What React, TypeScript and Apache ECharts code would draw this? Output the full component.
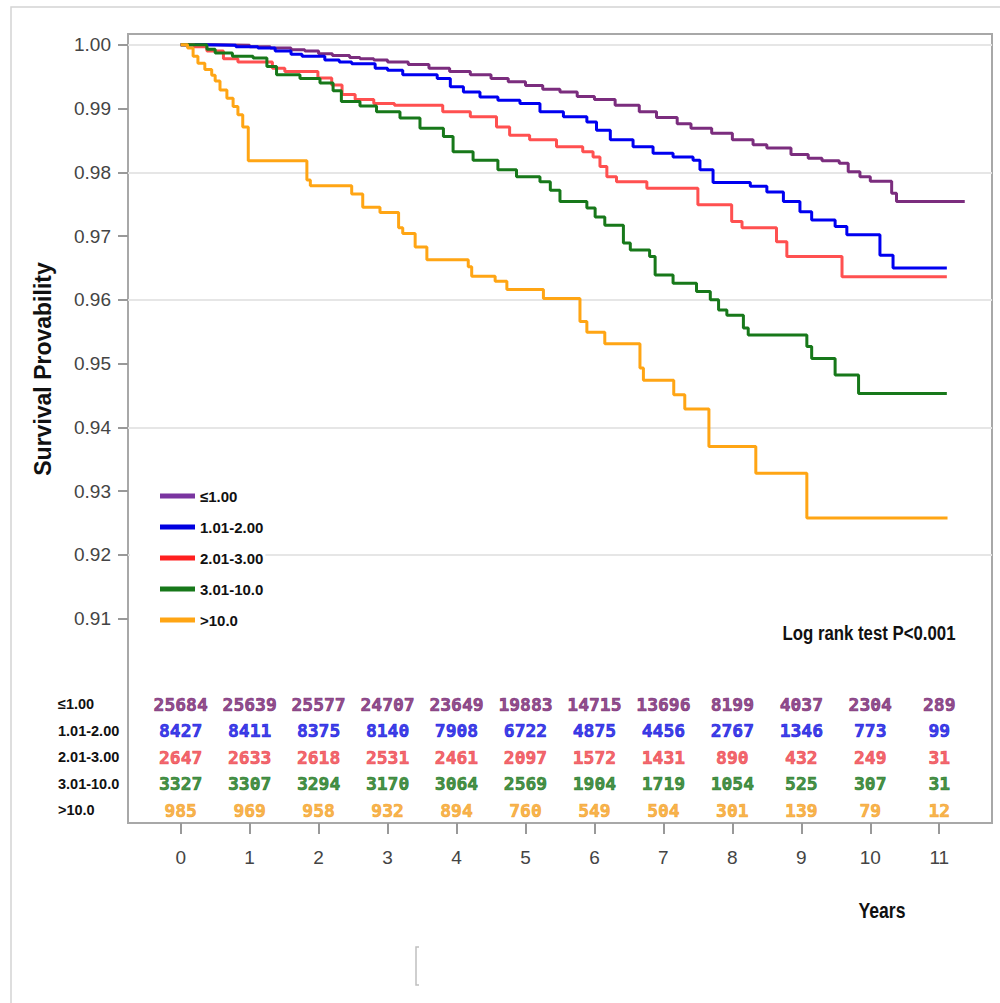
import React, { useEffect, useRef } from 'react';
import * as echarts from 'echarts';

const groupNames = ['≤1.00', '1.01-2.00', '2.01-3.00', '3.01-10.0', '>10.0'];
const lineColors = ['#7B2D7E', '#0000F0', '#FF5050', '#17781A', '#FFA514'];
const legendColors = ['#7A35A0', '#0000E0', '#FF1F1F', '#17781A', '#FFA514'];
const riskColors = ['#74206F', '#0C0CE0', '#EE3F48', '#167416', '#F5A020'];

// Kaplan-Meier step points (time in years, survival probability from that time on)
const timeLe1 = [0, 0.5, 1.0, 1.3, 1.6, 1.8, 2.0, 2.2, 2.45, 2.6, 2.8, 3.0, 3.3, 3.6, 3.9, 4.2, 4.5, 4.75, 5.0, 5.25, 5.5, 5.75, 6.0, 6.3, 6.65, 6.9, 7.2, 7.4, 7.7, 8.0, 8.3, 8.5, 8.85, 9.1, 9.3, 9.55, 9.68, 9.85, 10.0, 10.31, 10.38, 11.37];
const survLe1 = [1, 0.9999, 0.9997, 0.9995, 0.9992, 0.999, 0.9986, 0.9983, 0.998, 0.9978, 0.9976, 0.9973, 0.9969, 0.9963, 0.9958, 0.9953, 0.9947, 0.9942, 0.9936, 0.993, 0.9926, 0.9919, 0.9914, 0.9905, 0.9895, 0.9886, 0.9876, 0.9869, 0.9861, 0.9851, 0.9843, 0.9838, 0.9828, 0.9822, 0.9818, 0.9814, 0.9801, 0.9793, 0.9786, 0.9767, 0.9754, 0.9754];

const time1to2 = [0, 0.35, 0.8, 1.12, 1.37, 1.6, 1.76, 2.09, 2.3, 2.48, 2.82, 3.0, 3.22, 3.72, 3.91, 4.1, 4.34, 4.6, 4.92, 5.21, 5.55, 5.89, 6.03, 6.23, 6.56, 6.85, 7.14, 7.43, 7.53, 7.72, 8.26, 8.5, 8.74, 8.98, 9.15, 9.49, 9.66, 10.14, 10.33, 11.11];
const surv1to2 = [1, 0.9999, 0.9997, 0.9995, 0.999, 0.9985, 0.9982, 0.9976, 0.9973, 0.997, 0.9963, 0.996, 0.9953, 0.9947, 0.9934, 0.9926, 0.9918, 0.9913, 0.9908, 0.9895, 0.9887, 0.9879, 0.9866, 0.9851, 0.984, 0.983, 0.9824, 0.9819, 0.9804, 0.9784, 0.9778, 0.9769, 0.9754, 0.9738, 0.9725, 0.9715, 0.9702, 0.967, 0.965, 0.965];

const time2to3 = [0, 0.2, 0.38, 0.62, 0.83, 1.33, 1.51, 1.99, 2.19, 2.34, 2.53, 2.8, 3.1, 3.8, 4.2, 4.58, 4.77, 5.06, 5.45, 5.83, 5.98, 6.08, 6.18, 6.32, 6.76, 7.5, 7.99, 8.14, 8.64, 8.79, 9.59, 11.11];
const surv2to3 = [1, 0.9997, 0.999, 0.9978, 0.9973, 0.9963, 0.9958, 0.9948, 0.9937, 0.9922, 0.9914, 0.9908, 0.9905, 0.9895, 0.9887, 0.9871, 0.9858, 0.9851, 0.984, 0.9832, 0.9824, 0.9809, 0.9793, 0.9785, 0.9775, 0.9749, 0.9723, 0.9713, 0.9691, 0.9668, 0.9636, 0.9636];

const time3to10 = [0, 0.38, 0.5, 0.75, 1.05, 1.25, 1.39, 1.73, 2.02, 2.21, 2.33, 2.6, 2.84, 3.18, 3.47, 3.81, 3.95, 4.24, 4.6, 4.87, 5.21, 5.36, 5.5, 5.89, 6.01, 6.15, 6.42, 6.52, 6.8, 6.88, 7.14, 7.48, 7.68, 7.8, 7.92, 8.16, 8.23, 9.08, 9.15, 9.49, 9.83, 11.11];
const surv3to10 = [1, 0.9993, 0.9987, 0.9982, 0.9979, 0.9966, 0.9953, 0.9947, 0.994, 0.9928, 0.9911, 0.9904, 0.9895, 0.9885, 0.9869, 0.9856, 0.9832, 0.9819, 0.9804, 0.9793, 0.9785, 0.9772, 0.9754, 0.9744, 0.973, 0.9717, 0.9689, 0.9678, 0.9668, 0.9639, 0.9626, 0.9613, 0.96, 0.9584, 0.9576, 0.9556, 0.9545, 0.9527, 0.9508, 0.9482, 0.9453, 0.9453];

const timeGt10 = [0, 0.1, 0.18, 0.25, 0.35, 0.45, 0.5, 0.57, 0.67, 0.76, 0.83, 0.9, 0.98, 1.83, 1.88, 2.48, 2.64, 2.89, 3.16, 3.22, 3.4, 3.57, 4.17, 4.22, 4.56, 4.73, 5.26, 5.79, 5.89, 6.15, 6.66, 6.71, 7.15, 7.31, 7.66, 8.34, 9.08, 11.12];
const survGt10 = [1, 0.9995, 0.9982, 0.9971, 0.9961, 0.9952, 0.9943, 0.9929, 0.9916, 0.9903, 0.989, 0.9871, 0.9818, 0.9788, 0.9779, 0.9766, 0.9745, 0.9737, 0.9713, 0.9704, 0.9683, 0.9663, 0.9652, 0.9637, 0.9629, 0.9616, 0.9602, 0.9566, 0.9549, 0.9531, 0.9493, 0.9474, 0.9451, 0.9429, 0.937, 0.9328, 0.9258, 0.9258];

// Numbers at risk
const riskYears = [0, 1, 2, 3, 4, 5, 6, 7, 8, 9, 10, 11];
const riskLe1 = [25684, 25639, 25577, 24707, 23649, 19883, 14715, 13696, 8199, 4037, 2304, 289];
const risk1to2 = [8427, 8411, 8375, 8140, 7908, 6722, 4875, 4456, 2767, 1346, 773, 99];
const risk2to3 = [2647, 2633, 2618, 2531, 2461, 2097, 1572, 1431, 890, 432, 249, 31];
const risk3to10 = [3327, 3307, 3294, 3170, 3064, 2569, 1904, 1719, 1054, 525, 307, 31];
const riskGt10 = [985, 969, 958, 932, 894, 760, 549, 504, 301, 139, 79, 12];

const yTickValues = [1.0, 0.99, 0.98, 0.97, 0.96, 0.95, 0.94, 0.93, 0.92, 0.91];
const yGridValues = [1.0, 0.98, 0.96, 0.94, 0.92];
const xTickValues = [0, 1, 2, 3, 4, 5, 6, 7, 8, 9, 10, 11];

const SANS = '"Liberation Sans", Arial, sans-serif';
const MONO = '"DejaVu Sans Mono", "Liberation Mono", monospace';

export default function App() {
  const ref = useRef<HTMLDivElement>(null);
  useEffect(() => {
    if (!ref.current) return;
    const chart = echarts.init(ref.current, null, { renderer: 'svg' });
    const times = [timeLe1, time1to2, time2to3, time3to10, timeGt10];
    const survs = [survLe1, surv1to2, surv2to3, surv3to10, survGt10];
    const risks = [riskLe1, risk1to2, risk2to3, risk3to10, riskGt10];
    const xMin = -0.764;
    const xMax = 11.765;

    const curveSeries = groupNames.map((name, g) => ({
      name,
      type: 'line',
      step: 'end',
      xAxisIndex: 0,
      yAxisIndex: 0,
      showSymbol: false,
      symbol: 'none',
      z: 3,
      lineStyle: { color: lineColors[g], width: 3 },
      itemStyle: { color: legendColors[g] },
      data: times[g].map((t, i) => [t, survs[g][i]]),
    }));

    const riskSeries = groupNames.map((name, g) => ({
      name: 'risk ' + name,
      type: 'scatter',
      xAxisIndex: 1,
      yAxisIndex: 1,
      symbolSize: 1,
      itemStyle: { color: 'transparent' },
      label: {
        show: true,
        position: 'inside',
        formatter: (p: any) => String(risks[g][p.dataIndex]),
        color: riskColors[g],
        textBorderWidth: 0.7,
        textBorderColor: riskColors[g],
        fontFamily: MONO,
        fontWeight: 'bold',
        fontSize: 18,
      },
      data: riskYears.map((yr) => [yr, name]),
    }));

    chart.setOption({
      animation: false,
      backgroundColor: '#ffffff',
      grid: [
        { left: 128, top: 34, width: 864, height: 789, show: true, borderColor: '#a8a8a8', borderWidth: 2, backgroundColor: 'transparent' },
        { left: 128, top: 690.75, width: 864, height: 132.5, show: false },
      ],
      xAxis: [
        {
          type: 'value', gridIndex: 0, min: xMin, max: xMax,
          axisLine: { show: false, onZero: false },
          splitLine: { show: false },
          axisTick: { show: true, customValues: xTickValues, length: 11, lineStyle: { color: '#999', width: 2 } },
          axisLabel: { customValues: xTickValues, margin: 25, fontSize: 19, fontFamily: SANS, color: '#444' },
        },
        {
          type: 'value', gridIndex: 1, min: xMin, max: xMax, show: false,
          axisLine: { onZero: false },
        },
      ],
      yAxis: [
        {
          type: 'value', gridIndex: 0, min: 0.87797, max: 1.00168,
          axisLine: { show: false, onZero: false },
          splitLine: { show: false },
          axisTick: { show: true, customValues: yTickValues, length: 10, lineStyle: { color: '#999', width: 2 } },
          axisLabel: { customValues: yTickValues, margin: 17, fontSize: 19, fontFamily: SANS, color: '#444', formatter: (v: number) => v.toFixed(2) },
        },
        {
          type: 'category', gridIndex: 1, inverse: true,
          data: groupNames,
          axisLine: { show: false, onZero: false },
          axisTick: { show: false },
          splitLine: { show: false },
          axisLabel: { align: 'left', margin: 70, fontSize: 14.5, fontWeight: 'bold', fontFamily: SANS, color: '#111' },
        },
      ],
      legend: {
        data: groupNames,
        orient: 'vertical',
        left: 130,
        top: 481,
        z: 6,
        padding: [5, 2, 5, 30],
        backgroundColor: '#ffffff',
        icon: 'rect',
        itemWidth: 35,
        itemHeight: 5,
        itemGap: 11,
        textStyle: { fontSize: 15, fontWeight: 'bold', fontFamily: SANS, color: '#111', lineHeight: 20 },
        selectedMode: false,
      },
      series: [
        {
          name: 'grid',
          type: 'line',
          xAxisIndex: 0,
          yAxisIndex: 0,
          z: 1,
          showSymbol: false,
          symbol: 'none',
          lineStyle: { width: 0, opacity: 0 },
          data: [[0, 1]],
          markLine: {
            silent: true,
            z: 1,
            symbol: ['none', 'none'],
            label: { show: false },
            lineStyle: { color: '#e6e6e6', width: 2, type: 'solid' },
            data: yGridValues.map((v) => ({ yAxis: v })),
          },
        },
        ...curveSeries,
        ...riskSeries,
      ],
      graphic: [
        { type: 'rect', shape: { x: 11, y: 7, width: 1100, height: 1100 }, style: { fill: 'none', stroke: '#d4d4d4', lineWidth: 1.5 }, z: 0, silent: true },
        {
          type: 'text', x: 43, y: 369, rotation: Math.PI / 2,
          style: { text: 'Survival Provability', x: 0, y: 0, align: 'center', verticalAlign: 'middle', fontSize: 23, fontWeight: 'bold', fontFamily: SANS, fill: '#111' },
        },
        {
          type: 'text', x: 882, y: 910, scaleX: 0.8,
          style: { text: 'Years', x: 0, y: 0, align: 'center', verticalAlign: 'middle', fontSize: 22, fontWeight: 'bold', fontFamily: SANS, fill: '#111' },
        },
        {
          type: 'text', x: 869, y: 633, scaleX: 0.8,
          style: { text: 'Log rank test P<0.001', x: 0, y: 0, align: 'center', verticalAlign: 'middle', fontSize: 21, fontWeight: 'bold', fontFamily: SANS, fill: '#111' },
        },
        {
          type: 'polyline', shape: { points: [[419, 947], [416, 947], [416, 985], [419, 985]] },
          style: { stroke: '#c0c0c0', lineWidth: 1.5, fill: 'none' }, silent: true,
        },
      ],
    });
    return () => chart.dispose();
  }, []);
  return <div ref={ref} style={{ position: 'fixed', left: 0, top: 0, width: 1000, height: 1003 }} />;
}
